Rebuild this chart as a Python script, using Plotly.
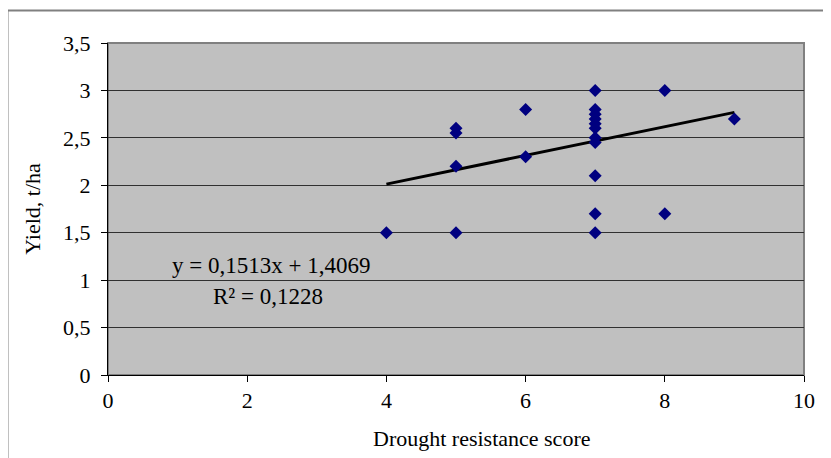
import plotly.graph_objects as go

# Data
score = [4, 5, 5, 5, 5, 6, 6,
         7, 7, 7, 7, 7, 7, 7, 7, 7, 7, 7,
         8, 8, 9]
yield_t = [1.5, 2.6, 2.55, 2.2, 1.5, 2.8, 2.3,
           3.0, 2.8, 2.75, 2.7, 2.65, 2.6, 2.5, 2.45, 2.1, 1.7, 1.5,
           3.0, 1.7, 2.7]
slope = 0.1513
intercept = 1.4069
r2 = 0.1228
x_ticks = [0, 2, 4, 6, 8, 10]
y_ticks = [0, 0.5, 1, 1.5, 2, 2.5, 3, 3.5]

FONT = "Liberation Serif, Times New Roman, serif"

xmin, xmax = min(score), max(score)
trend_x = [xmin, xmax]
trend_y = [intercept + slope * v for v in trend_x]

fig = go.Figure()
fig.add_trace(go.Scatter(
    x=trend_x, y=trend_y, mode="lines",
    line=dict(color="black", width=3), hoverinfo="skip", showlegend=False))
fig.add_trace(go.Scatter(
    x=score, y=yield_t, mode="markers",
    marker=dict(symbol="diamond", color="#000080", size=10, line=dict(width=0)),
    showlegend=False))

eq_text = f"y = {slope:.4f}x + {intercept:.4f}".replace(".", ",")
r2_text = f"R² = {r2:.4f}".replace(".", ",")
fig.add_annotation(x=2.34, y=1.15, xref="x", yref="y", text=eq_text,
                   showarrow=False, font=dict(family=FONT, size=23, color="black"))
fig.add_annotation(x=2.30, y=0.83, xref="x", yref="y", text=r2_text,
                   showarrow=False, font=dict(family=FONT, size=23, color="black"))
# x axis title (placed like the original, slightly right of centre)
fig.add_annotation(x=0.536, y=-0.19, xref="paper", yref="paper",
                   text="Drought resistance score", showarrow=False,
                   xanchor="center", yanchor="middle",
                   font=dict(family=FONT, size=22, color="black"))

# outer chart frame
fig.add_shape(type="rect", xref="paper", yref="paper",
              x0=-0.1444, x1=1.2, y0=1.098, y1=-0.5,
              line=dict(color="#808080", width=2), fillcolor="rgba(0,0,0,0)", layer="below")
# plot area border (top/right)
fig.add_shape(type="rect", xref="paper", yref="paper", x0=0, x1=1, y0=0, y1=1,
              line=dict(color="#808080", width=2), fillcolor="rgba(0,0,0,0)", layer="below")

fig.update_layout(
    width=823, height=450,
    margin=dict(l=100, r=27, t=35, b=83),
    paper_bgcolor="white",
    plot_bgcolor="#C0C0C0",
    separators=", ",
    font=dict(family=FONT, size=22, color="black"),
    xaxis=dict(range=[0, 10], tickvals=x_ticks, showgrid=False, zeroline=False,
               showline=True, linecolor="black", linewidth=1,
               ticks="outside", ticklen=6, tickcolor="black", ticklabelstandoff=0,
               tickfont=dict(family=FONT, size=22)),
    yaxis=dict(range=[0, 3.5], tickvals=y_ticks, showgrid=True, gridcolor="#303030", gridwidth=1,
               zeroline=False, showline=True, linecolor="black", linewidth=1,
               ticks="outside", ticklen=6, tickcolor="black", ticklabelstandoff=6,
               tickfont=dict(family=FONT, size=22),
               title=dict(text="Yield, t/ha", font=dict(family=FONT, size=22), standoff=16)),
)

fig.write_html("out.html")
